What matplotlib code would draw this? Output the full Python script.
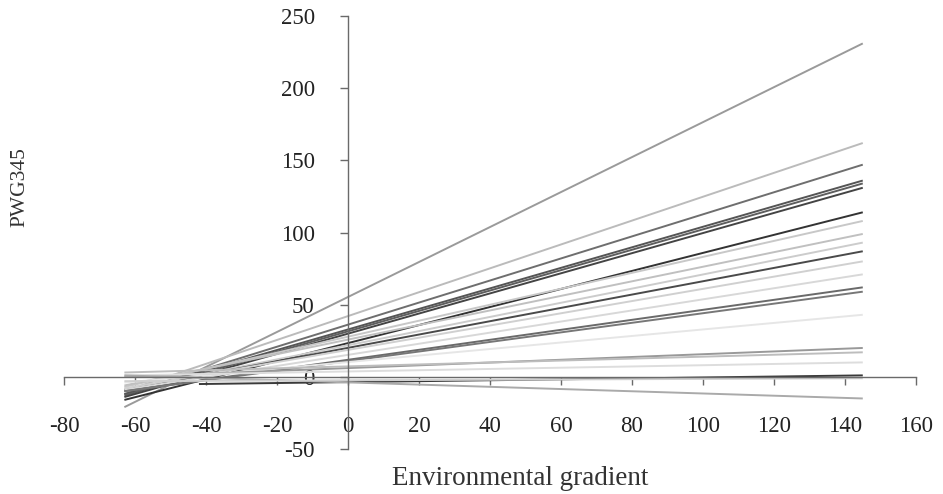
import matplotlib
matplotlib.use('Agg')
import matplotlib.pyplot as plt

plt.rcParams['font.family'] = ['Liberation Serif', 'DejaVu Serif']
plt.rcParams['axes.unicode_minus'] = False

# reaction norms: start/end points of each line
x_start = [-63, -63, -63, -63, -63, -63, -63, -63, -63, -63, -63,
           -63, -63, -63, -63, -63, -63, -63, -63, -42, -63, -63]
x_end = [145] * 22
y_start = [-21, -10, -12, -12, -13, -14, -16, -7, -6, -9, -9,
           -8, -9, -10, -10, -4, 0, 3, 1, -5, 1, -3]
y_end = [231, 162, 147, 136, 134, 131, 114, 108, 99, 93, 87,
         80, 71, 62, 59, 43, 20, 17, 10, 1, -15, -1]

shades = ['#9a9a9a', '#bbbbbb', '#6e6e6e', '#555555', '#5e5e5e', '#444444',
          '#333333', '#c8c8c8', '#c0c0c0', '#cccccc', '#4a4a4a', '#d0d0d0',
          '#d8d8d8', '#6a6a6a', '#777777', '#e6e6e6', '#999999', '#bdbdbd',
          '#dddddd', '#3a3a3a', '#aaaaaa', '#cfcfcf']

x_ticks = list(range(-80, 161, 20))
y_ticks = list(range(-50, 251, 50))

fig = plt.figure(figsize=(9.43, 4.94), dpi=100)
ax = fig.add_axes([0.0679, 0.0911, 0.9035, 0.8765])

for i in range(len(y_start)):
    ax.plot([x_start[i], x_end[i]], [y_start[i], y_end[i]],
            color=shades[i], lw=1.4, solid_capstyle='butt')

ax.set_xlim(-80, 160)
ax.set_ylim(-50, 250)
ax.spines['left'].set_position(('data', 0))
ax.spines['bottom'].set_position(('data', 0))
ax.spines['top'].set_visible(False)
ax.spines['right'].set_visible(False)
for s in ['left', 'bottom']:
    ax.spines[s].set_color('#6a6a6a')
    ax.spines[s].set_linewidth(1.0)

ax.set_xticks(x_ticks)
ax.set_yticks(y_ticks)
ax.tick_params(axis='x', direction='out', length=6, width=1.0, color='#6a6a6a',
               labelsize=16.5, pad=22, labelcolor='#222222')
ax.tick_params(axis='y', direction='out', length=6, width=1.0, color='#6a6a6a',
               labelsize=16.5, pad=18, labelcolor='#222222')

fig.text(520 / 943, 1 - 478 / 494, 'Environmental gradient', fontsize=19.5,
         ha='center', va='center', color='#333333')
fig.text(20 / 943, 1 - 187 / 494, 'PWG345', fontsize=15.5, rotation=90,
         ha='center', va='center', color='#333333')

fig.savefig('out.png', dpi=100, facecolor='white')
